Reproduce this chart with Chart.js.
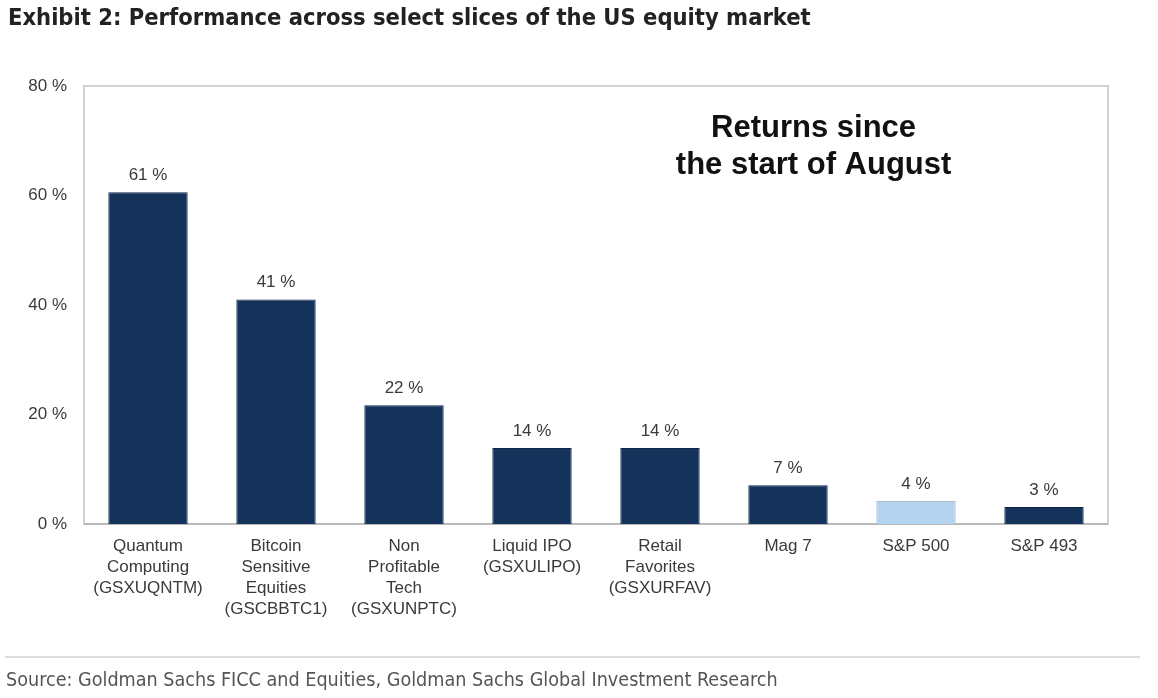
<!DOCTYPE html>
<html>
<head>
<meta charset="utf-8">
<script src="https://cdn.jsdelivr.net/npm/chart.js@4"></script>
<style>
    html, body { margin: 0; padding: 0; background: #fff; }
    body { width: 1158px; height: 698px; position: relative; overflow: hidden; }
    #title {
        position: absolute; left: 8px; top: 3px;
        font-family: "Liberation Sans Narrow", "DejaVu Sans Condensed", "Open Sans", sans-serif;
        font-weight: bold; font-size: 23.5px; color: #222; white-space: nowrap;
    }
    #rule { position: absolute; left: 5px; top: 656px; width: 1135px; height: 2px; background: #dcdcdc; }
    #source {
        position: absolute; left: 6px; top: 668px;
        font-family: "Liberation Sans Narrow", "DejaVu Sans Condensed", "Open Sans", sans-serif;
        font-size: 19.6px; color: #555; white-space: nowrap;
    }
    #wrap { position: absolute; left: 0; top: 0; width: 1158px; height: 698px; }
</style>
</head>
<body>
<div id="wrap"><canvas id="myBarChart" width="1158" height="698"></canvas></div>
<div id="title">Exhibit 2: Performance across select slices of the US equity market</div>
<div id="rule"></div>
<div id="source">Source: Goldman Sachs FICC and Equities, Goldman Sachs Global Investment Research</div>
<script>
// Dữ liệu biểu đồ
const categories = [
    ["Quantum", "Computing", "(GSXUQNTM)"],
    ["Bitcoin", "Sensitive", "Equities", "(GSCBBTC1)"],
    ["Non", "Profitable", "Tech", "(GSXUNPTC)"],
    ["Liquid IPO", "(GSXULIPO)"],
    ["Retail", "Favorites", "(GSXURFAV)"],
    ["Mag 7"],
    ["S&P 500"],
    ["S&P 493"],
];
const returnsSinceAugust = [60.6, 41.0, 21.7, 13.9, 13.9, 7.1, 4.2, 3.1];
const valueLabels = ["61 %", "41 %", "22 %", "14 %", "14 %", "7 %", "4 %", "3 %"];
const barColors = ["#14325a", "#14325a", "#14325a", "#14325a", "#14325a", "#14325a", "#b4d3ef", "#14325a"];
const barBorders = ["#0e2747", "#0e2747", "#0e2747", "#0e2747", "#0e2747", "#0e2747", "#a9bccd", "#0e2747"];
const yTicks = [0, 20, 40, 60, 80];

const labelFont = "'Liberation Sans', Arial, sans-serif";

// Khung viền + nhãn giá trị + chú thích
const extras = {
    id: "extras",
    beforeDatasetsDraw(chart) {
        const { ctx, chartArea: a } = chart;
        ctx.save();
        ctx.strokeStyle = "#d2d2d2";
        ctx.lineWidth = 2;
        ctx.strokeRect(a.left, a.top, a.right - a.left, a.bottom - a.top);
        ctx.strokeStyle = "#b8b8b8";
        ctx.beginPath();
        ctx.moveTo(a.left, a.bottom);
        ctx.lineTo(a.right, a.bottom);
        ctx.stroke();
        ctx.restore();
    },
    afterDatasetsDraw(chart) {
        const { ctx } = chart;
        ctx.save();
        ctx.fillStyle = "#3a3a3a";
        ctx.font = "17px " + labelFont;
        ctx.textAlign = "center";
        ctx.textBaseline = "middle";
        chart.getDatasetMeta(0).data.forEach((bar, i) => {
            ctx.fillText(valueLabels[i], bar.x, bar.y - 17);
        });
        ctx.fillStyle = "#111";
        ctx.font = "bold 31px " + labelFont;
        const cx = chart.scales.x.getPixelForValue(5.2);
        ctx.fillText("Returns since", cx, 128);
        ctx.fillText("the start of August", cx, 165);
        ctx.restore();
    },
};

const barCanvas = document.getElementById("myBarChart");
if (barCanvas) {
    const ctxBar = barCanvas.getContext("2d");
    const myBarChart = new Chart(ctxBar, {
        type: "bar",
        data: {
            labels: categories,
            datasets: [
                {
                    data: returnsSinceAugust,
                    backgroundColor: barColors,
                    borderColor: barBorders,
                    borderWidth: 1,
                    categoryPercentage: 1,
                    barPercentage: 0.62,
                },
            ],
        },
        options: {
            responsive: false,
            animation: false,
            devicePixelRatio: 1,
            layout: { padding: { top: 86, right: 50, left: 0, bottom: 0 } },
            plugins: {
                legend: { display: false },
                tooltip: { enabled: false },
            },
            scales: {
                x: {
                    grid: { display: false, drawTicks: false },
                    border: { display: false },
                    ticks: {
                        color: "#3a3a3a",
                        padding: 12,
                        maxRotation: 0,
                        autoSkip: false,
                        font: { family: labelFont, size: 17, lineHeight: 1.235 },
                    },
                    afterFit(scale) { scale.height = 174; },
                },
                y: {
                    min: 0,
                    max: 80,
                    grid: { display: false, drawTicks: false },
                    border: { display: false },
                    afterBuildTicks(scale) { scale.ticks = yTicks.map((v) => ({ value: v })); },
                    ticks: {
                        color: "#3a3a3a",
                        padding: 17,
                        font: { family: labelFont, size: 17 },
                        callback: (v) => v + " %",
                    },
                    afterFit(scale) { scale.width = 84; },
                },
            },
        },
        plugins: [extras],
    });
}
</script>
</body>
</html>
